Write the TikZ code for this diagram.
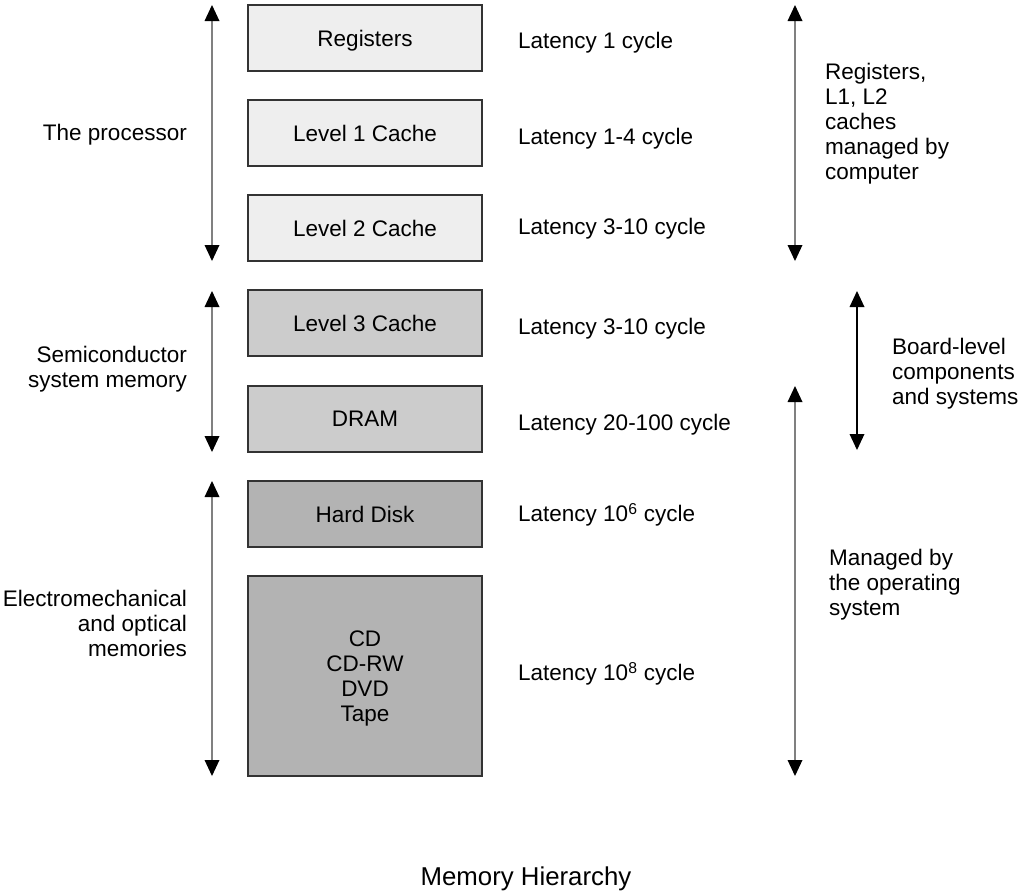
\documentclass[tikz,border=0pt]{standalone}
\usepackage{fontspec}
\setmainfont{Liberation Sans}
\usetikzlibrary{arrows.meta}
\definecolor{fillA}{HTML}{EEEEEE}
\definecolor{fillB}{HTML}{CCCCCC}
\definecolor{fillC}{HTML}{B3B3B3}
\definecolor{lineG}{HTML}{808080}
\definecolor{boxline}{HTML}{333333}
\begin{document}
\begin{tikzpicture}[x=1pt,y=-1pt,
  every node/.style={font=\fontsize{22.5}{25}\selectfont, inner sep=0pt},
  membox/.style={draw=boxline, line width=1.3pt, minimum width=234pt, minimum height=66pt},
  boxtext/.style={label={[text depth=0pt]center:#1}},
  boxlines/.style={label={[align=center, yshift=-2pt]center:#1}},
  span/.style={draw=lineG, line width=2pt, {Triangle[width=15pt,length=16pt,black,line width=0pt]}-{Triangle[width=15pt,length=16pt,black,line width=0pt]}},
  spanblack/.style={draw=black, line width=1.3pt, {Triangle[width=15pt,length=16pt,black,line width=0pt]}-{Triangle[width=15pt,length=16pt,black,line width=0pt]}},
  lbl/.style={align=left, anchor=west, yshift=-2pt},
  lblr/.style={align=right, anchor=east, yshift=-2pt}]
\useasboundingbox (0,0) rectangle (1021,894);
\fill[white] (0,0) rectangle (1021,894);

% boxes
\node[membox, fill=fillA, boxtext={Registers}] (reg) at (365,38) {};
\node[membox, fill=fillA, boxtext={Level 1 Cache}] (l1) at (365,133) {};
\node[membox, fill=fillA, boxtext={Level 2 Cache}] (l2) at (365,228) {};
\node[membox, fill=fillB, boxtext={Level 3 Cache}] (l3) at (365,323) {};
\node[membox, fill=fillB, boxtext={DRAM}] (dram) at (365,419) {};
\node[membox, fill=fillC, boxtext={Hard Disk}] (hd) at (365,514) {};
\node[membox, fill=fillC, minimum height=200pt, boxlines={CD\\CD-RW\\DVD\\Tape}] (cd) at (365,676) {};

% latency labels
\node[lbl] (lat1) at (518,41) {Latency 1 cycle};
\node[lbl] (lat2) at (518,137) {Latency 1-4 cycle};
\node[lbl] (lat3) at (518,227) {Latency 3-10 cycle};
\node[lbl] (lat4) at (518,327) {Latency 3-10 cycle};
\node[lbl] (lat5) at (518,423) {Latency 20-100 cycle};
\node[lbl] (lat6) at (518,513) {Latency 10\textsuperscript{6} cycle};
\node[lbl] (lat7) at (518,672) {Latency 10\textsuperscript{8} cycle};

% left labels
\node[lblr] (proc) at (187,133) {The processor};
\node[lblr] (semi) at (187,367) {Semiconductor\\system memory};
\node[lblr] (elec) at (187,621) {Electromechanical\\and optical\\memories};

% right labels
\node[lbl] (regl) at (825,122) {Registers,\\L1, L2\\caches\\managed by\\computer};
\node[lbl] (board) at (892,372) {Board-level\\components\\and systems};
\node[lbl] (os) at (829,583) {Managed by\\the operating\\system};

% title
\node[font=\fontsize{25.8}{30}\selectfont, yshift=-2pt] (title) at (526,877) {Memory Hierarchy};

% arrows
\coordinate (a1t) at (212,5);   \coordinate (a1b) at (212,261);
\coordinate (a2t) at (212,291); \coordinate (a2b) at (212,452);
\coordinate (a3t) at (212,481); \coordinate (a3b) at (212,776);
\coordinate (r1t) at (795,5);   \coordinate (r1b) at (795,261);
\coordinate (r2t) at (857,291); \coordinate (r2b) at (857,450);
\coordinate (r3t) at (795,386); \coordinate (r3b) at (795,776);
\draw[span] (a1t) -- (a1b);
\draw[span] (a2t) -- (a2b);
\draw[span] (a3t) -- (a3b);
\draw[span] (r1t) -- (r1b);
\draw[spanblack] (r2t) -- (r2b);
\draw[span] (r3t) -- (r3b);
\end{tikzpicture}
\end{document}
